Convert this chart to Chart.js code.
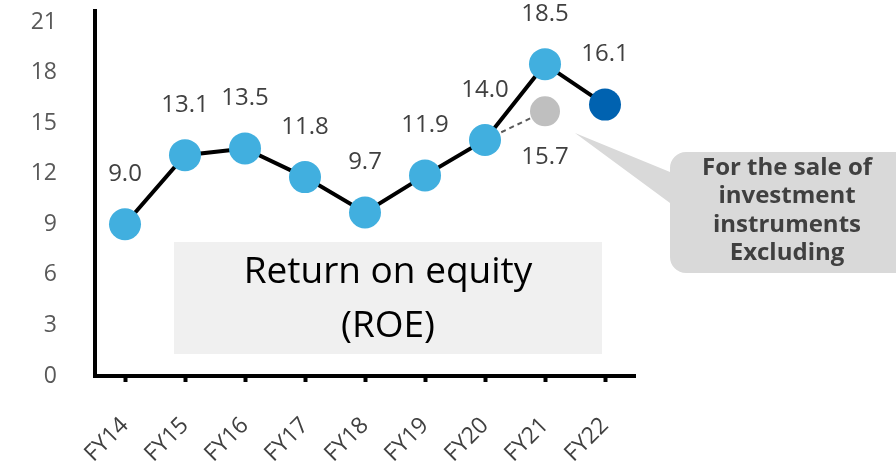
<!DOCTYPE html>
<html>
<head>
<meta charset="utf-8">
<script src="https://cdn.jsdelivr.net/npm/chart.js@4"></script>
<style>
  html, body { margin: 0; padding: 0; background: #fff; }
  #wrap { width: 896px; height: 467px; position: relative; }
</style>
</head>
<body>
<div id="wrap"><canvas id="roe"></canvas></div>
<script>
// Fiscal years on the category axis
const years = ['FY14', 'FY15', 'FY16', 'FY17', 'FY18', 'FY19', 'FY20', 'FY21', 'FY22'];
// Return on equity, %
const roe = [9.0, 13.1, 13.5, 11.8, 9.7, 11.9, 14.0, 18.5, 16.1];
// FY21 ROE excluding the sale of investment instruments (joined from FY20)
const roeExcluding = [null, null, null, null, null, null, 14.0, 15.7, null];
// Y axis tick labels
const yTicks = [0, 3, 6, 9, 12, 15, 18, 21];

const FONT = '"Open Sans", "Noto Sans", sans-serif';
const LIGHT_BLUE = '#41afdf';
const DARK_BLUE = '#0062b0';
const GREY_DOT = '#bfbfbf';

// Value labels above each point (and below the excluding point)
const valueLabels = {
  id: 'valueLabels',
  afterDatasetsDraw(chart) {
    const ctx = chart.ctx;
    ctx.save();
    ctx.font = '24px ' + FONT;
    ctx.fillStyle = '#404040';
    ctx.textAlign = 'center';
    ctx.textBaseline = 'middle';
    chart.getDatasetMeta(0).data.forEach((pt, i) => {
      ctx.fillText(roe[i].toFixed(1), pt.x, pt.y - 50);
    });
    chart.getDatasetMeta(1).data.forEach((pt, i) => {
      if (roeExcluding[i] === null || i !== 7) return;
      ctx.fillText(roeExcluding[i].toFixed(1), pt.x, pt.y + 46);
    });
    ctx.restore();
  }
};

// Title box inside the plot, the callout note and the axis extension
const notes = {
  id: 'notes',
  beforeDatasetsDraw(chart) {
    const ctx = chart.ctx;
    ctx.save();
    ctx.fillStyle = '#f0f0f0';
    ctx.fillRect(174, 242, 428, 112);
    ctx.fillStyle = '#000';
    ctx.font = '37px ' + FONT;
    ctx.textAlign = 'center';
    ctx.textBaseline = 'middle';
    ctx.fillText('Return on equity', 388, 272);
    ctx.fillText('(ROE)', 388, 326);
    // y axis line continues a little above the top tick
    const a = chart.chartArea;
    const ax = chart.scales.y.right;
    ctx.fillStyle = '#000';
    ctx.fillRect(ax - 2, 9, 4, a.top - 9 + 2);
    ctx.restore();
  },
  afterDraw(chart) {
    const ctx = chart.ctx;
    ctx.save();
    const x = 670, y = 152, w = 240, h = 121, r = 16;
    ctx.fillStyle = '#d9d9d9';
    ctx.beginPath();
    ctx.moveTo(x + r, y);
    ctx.lineTo(x + w - r, y);
    ctx.arcTo(x + w, y, x + w, y + r, r);
    ctx.lineTo(x + w, y + h - r);
    ctx.arcTo(x + w, y + h, x + w - r, y + h, r);
    ctx.lineTo(x + r, y + h);
    ctx.arcTo(x, y + h, x, y + h - r, r);
    ctx.lineTo(x, 203);
    ctx.lineTo(575, 133);
    ctx.lineTo(x, 172);
    ctx.lineTo(x, y + r);
    ctx.arcTo(x, y, x + r, y, r);
    ctx.closePath();
    ctx.fill();
    ctx.fillStyle = '#404040';
    ctx.font = 'bold 24px ' + FONT;
    ctx.textAlign = 'center';
    ctx.textBaseline = 'middle';
    ['For the sale of', 'investment', 'instruments', 'Excluding'].forEach((t, i) => {
      ctx.fillText(t, 787, 168 + i * 28.5);
    });
    ctx.restore();
  }
};

function noScalePadding(scale) {
  scale.paddingTop = 0;
  scale.paddingBottom = 0;
  scale.paddingLeft = 0;
  scale.paddingRight = 0;
}

new Chart(document.getElementById('roe'), {
  type: 'line',
  data: {
    labels: years,
    datasets: [
      {
        label: 'ROE',
        data: roe,
        borderColor: '#000',
        borderWidth: 4,
        pointRadius: 16,
        pointHoverRadius: 16,
        pointBorderWidth: 0,
        pointBackgroundColor: roe.map((v, i) => i === roe.length - 1 ? DARK_BLUE : LIGHT_BLUE),
        tension: 0
      },
      {
        label: 'ROE excluding sale of investment instruments',
        data: roeExcluding,
        borderColor: '#595959',
        borderWidth: 2,
        borderDash: [5, 4],
        pointRadius: roeExcluding.map((v, i) => i === 7 ? 15 : 0),
        pointBorderWidth: 0,
        pointBackgroundColor: GREY_DOT,
        spanGaps: false
      }
    ]
  },
  options: {
    responsive: true,
    maintainAspectRatio: false,
    animation: false,
    events: [],
    layout: { padding: { top: 22, right: 261, bottom: 0, left: 0 } },
    plugins: { legend: { display: false }, tooltip: { enabled: false } },
    scales: {
      x: {
        offset: true,
        afterFit(scale) { scale.height = 91; noScalePadding(scale); },
        grid: {
          display: true,
          offset: false,
          drawOnChartArea: false,
          drawTicks: true,
          tickLength: 6,
          tickWidth: 4,
          tickColor: '#000'
        },
        border: { display: true, color: '#000', width: 4 },
        ticks: {
          minRotation: 45,
          maxRotation: 45,
          padding: 30,
          color: '#404040',
          font: { family: FONT, size: 23 }
        }
      },
      y: {
        min: yTicks[0],
        max: yTicks[yTicks.length - 1],
        afterFit(scale) { scale.width = 95; noScalePadding(scale); },
        afterBuildTicks(scale) { scale.ticks = yTicks.map(v => ({ value: v })); },
        grid: { display: true, drawOnChartArea: false, drawTicks: false },
        border: { display: true, color: '#000', width: 4 },
        ticks: {
          padding: 38,
          color: '#595959',
          font: { family: FONT, size: 23 }
        }
      }
    }
  },
  plugins: [notes, valueLabels]
});
</script>
</body>
</html>
